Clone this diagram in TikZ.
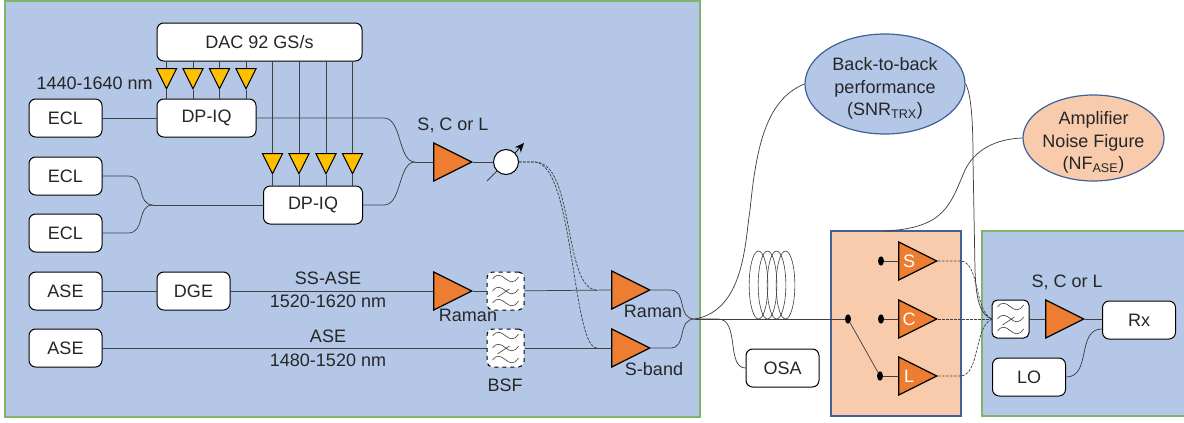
\documentclass[tikz,border=0pt]{standalone}
\usepackage{fontspec}
\setmainfont{Liberation Sans}
\usetikzlibrary{shapes.geometric,arrows.meta}
\definecolor{panelblue}{HTML}{B4C7E7}
\definecolor{panelpeach}{HTML}{F8CBAD}
\definecolor{panelgreen}{HTML}{7FB56A}
\definecolor{edgeblue}{HTML}{3F6198}
\definecolor{amporange}{HTML}{ED7D31}
\definecolor{drvyellow}{HTML}{FFC000}
\definecolor{fibregray}{HTML}{404040}
\tikzset{
  txt/.style={font=\fontsize{13.5pt}{17pt}\selectfont, text=black!85, inner sep=0pt},
  box/.style={txt, draw=black, fill=white, rounded corners=5pt, line width=0.75pt, minimum height=28.5pt},
  filt/.style={draw=black, fill=white, rounded corners=4pt, line width=0.75pt, minimum width=27.75pt, minimum height=28.5pt, inner sep=0pt},
  amp/.style={isosceles triangle, isosceles triangle stretches, isosceles triangle apex angle=60, draw=black, fill=amporange, line width=0.9pt, minimum width=28.5pt, minimum height=28.5pt, inner sep=0pt, anchor=apex},
  drv/.style={isosceles triangle, isosceles triangle stretches, shape border rotate=270, draw=black, fill=drvyellow, line width=0.75pt, minimum width=15pt, minimum height=15pt, inner sep=0pt, anchor=apex},
  bubble/.style={ellipse, draw=edgeblue, line width=0.9pt, inner sep=0pt},
  bubbletext/.style={txt, align=center, yshift=-3.4pt},
  fibre/.style={draw=fibregray, line width=0.55pt},
  dots/.style={fibre, dash pattern=on 2pt off 1pt},
  tap/.style={ellipse, fill=black, inner sep=0pt, minimum width=4.5pt, minimum height=7pt},
  wave/.pic={
    \foreach \dy in {-12,0,12} {
      \draw[fibregray, line width=0.45pt] (-13,\dy) .. controls (-3,\dy-13) and (3,\dy+13) .. (13,\dy-2);
    }
    \draw[fibregray, line width=0.45pt] (-8,6) -- (4,-2);
  }
}
\begin{document}
\begin{tikzpicture}[x=0.75pt,y=-0.75pt]
\useasboundingbox (0,0) rectangle (1184,422);
\draw[fill=panelblue, draw=panelgreen, line width=1.1pt] (5,1) rectangle (700,417);
\draw[fill=panelpeach, draw=edgeblue, line width=0.9pt] (831,231) rectangle (961,416);
\draw[fill=panelblue, draw=panelgreen, line width=1.1pt] (982,231) rectangle (1190,416);
\node[box, minimum width=153.75pt] (dac) at (259.5,42) {DAC 92 GS/s};
\node[box, minimum width=74.25pt] (iq1) at (206.5,118) {DP-IQ};
\node[box, minimum width=74.25pt] (iq2) at (313,205) {DP-IQ};
\node[box, minimum width=54.75pt] (ecl1) at (65.5,118) {ECL};
\node[box, minimum width=54.75pt] (ecl2) at (65.5,176) {ECL};
\node[box, minimum width=54.75pt] (ecl3) at (65.5,233) {ECL};
\node[box, minimum width=54.75pt] (ase1) at (65.5,291) {ASE};
\node[box, minimum width=54.75pt] (dge) at (193.5,291) {DGE};
\node[box, minimum width=54.75pt] (ase2) at (65.5,348) {ASE};
\node[box, minimum width=54.75pt] (osa) at (782.5,368) {OSA};
\node[box, minimum width=54.75pt] (rx) at (1139,320) {Rx};
\node[box, minimum width=54.75pt] (lo) at (1029,377) {LO};
\node[filt, dashed] (bpf) at (505.5,291) {};
\node[filt, dashed] (bsf) at (505.5,348) {};
\node[filt] (rxf) at (1010.5,319) {};
\pic at (bpf) {wave};
\pic at (bsf) {wave};
\pic at (rxf) {wave};
\node[amp] (boost) at (473,162) {};
\node[amp] (ram1) at (473,291) {};
\node[amp] (ram2) at (651,290) {};
\node[amp] (sbd) at (651,348) {};
\node[amp] (rxa) at (1085,319) {};
\node[amp] (ampS) at (938,261) {};
\node[amp] (ampC) at (938,319) {};
\node[amp] (ampL) at (938,376) {};
\node[txt, text=white] (nameS) at (909,261) {S};
\node[txt, text=white] (nameC) at (909,319) {C};
\node[txt, text=white] (nameL) at (909,376) {L};
\node[draw=black, fill=white, circle, line width=0.75pt, minimum size=18.75pt, inner sep=0pt] (voa) at (506,162) {};
\coordinate (voaA) at (487,181);
\coordinate (voaB) at (524,143);
\foreach \n/\x in {a/166.5,b/193,c/219.5,d/246} {
  \node[drv] (drv\n) at (\x,90) {};
  \draw[fibre] (dac.south -| drv\n.apex) -- (drv\n.lower side);
  \draw[fibre] (drv\n.apex) -- (drv\n.apex |- iq1.north);
}
\foreach \n/\x in {e/272.5,f/299,g/326,h/352.5} {
  \node[drv] (drv\n) at (\x,175) {};
  \draw[fibre] (dac.south -| drv\n.apex) -- (drv\n.lower side);
  \draw[fibre] (drv\n.apex) -- (drv\n.apex |- iq2.north);
}
\node[tap] (tap0) at (848,319) {};
\node[tap] (tapS) at (881,261) {};
\node[tap] (tapC) at (881,319) {};
\node[tap] (tapL) at (880,376) {};
\node[bubble, fill=panelblue, minimum width=120pt, minimum height=75pt, label={[bubbletext]center:Back-to-back\\performance\\(SNR\textsubscript{TRX})}] (b2b) at (885,84) {};
\node[bubble, fill=panelpeach, minimum width=105.75pt, minimum height=64.5pt, label={[bubbletext]center:Amplifier\\Noise Figure\\(NF\textsubscript{ASE})}] (nf) at (1093.5,138) {};
\coordinate (join1) at (153,205);
\coordinate (join2) at (415,162);
\coordinate (join3) at (695,319);
\coordinate (join4) at (992,319);
\node[txt, anchor=east] (wl) at (153,83) {1440-1640 nm};
\node[txt] (lbA) at (453,125) {S, C or L};
\node[txt] (lbB) at (1067,282) {S, C or L};
\node[txt] (lbC) at (328,278) {SS-ASE};
\node[txt] (lbD) at (328,301) {1520-1620 nm};
\node[txt] (lbE) at (328,336) {ASE};
\node[txt] (lbF) at (328,360) {1480-1520 nm};
\node[txt] (lbG) at (468,315) {Raman};
\node[txt] (lbH) at (653,311) {Raman};
\node[txt] (lbI) at (654,369) {S-band};
\node[txt] (lbJ) at (505,385) {BSF};
\draw[fibre] (ecl1) -- (iq1);
\draw[fibre] (iq1.east) -- (384,118) .. controls (402,118) and (398,162) .. (join2);
\draw[fibre] (iq2.east) -- (384,205) .. controls (402,205) and (398,162) .. (join2);
\draw[fibre] (join2) -- (boost.lower side);
\draw[fibre] (boost.apex) -- (voa);
\draw[fibre] (voaA) -- (voa.south west);
\draw[-{Stealth[length=7pt,width=6pt]}, draw=black, line width=0.55pt] (voa.north east) -- (voaB);
\draw[fibre] (ecl2.east) -- (128,176) .. controls (146,176) and (136,205) .. (join1);
\draw[fibre] (ecl3.east) -- (128,233) .. controls (146,233) and (136,205) .. (join1);
\draw[fibre] (join1) -- (iq2.west);
\draw[fibre] (ase1) -- (dge);
\draw[fibre] (dge) -- (ram1.lower side);
\draw[fibre] (ram1.apex) -- (bpf);
\draw[fibre] (bpf) -- (ram2.lower side);
\draw[fibre] (ase2) -- (bsf);
\draw[fibre] (bsf) -- (sbd.lower side);
\draw[dots] (voa.east) -- (535,162) .. controls (575,162) and (563,290) .. (597,290);
\draw[dots] (voa.east) -- (535,162) .. controls (574,165) and (572,348) .. (597,348);
\draw[fibre] (ram2.apex) -- (670,290) .. controls (688,290) and (676,319) .. (join3);
\draw[fibre] (sbd.apex) -- (670,348) .. controls (688,348) and (676,319) .. (join3);
\draw[fibre] (join3) -- (tap0);
\draw[fibre] (join3) .. controls (745,310) and (745,240) .. (750,210) .. controls (756,150) and (765,100) .. (b2b.west);
\draw[fibre] (join3) -- (718,319) .. controls (740,319) and (726,368) .. (osa.west);
\draw[fibre] (b2b.east) .. controls (972,95) and (973,130) .. (973,160) -- (975,270) .. controls (976,300) and (980,315) .. (join4);
\draw[fibre] (885,231) .. controls (945,228) and (950,205) .. (965,170) .. controls (975,150) and (995,139) .. (nf.west);
\foreach \n in {0,1,2,3} {
  \node[draw=fibregray, line width=0.45pt, ellipse, inner sep=0pt, minimum width=14pt, minimum height=51pt] (spool\n) at (758.5+9*\n,285) {};
}
\draw[fibre] (tapS) -- (ampS.lower side);
\draw[fibre] (tapC) -- (ampC.lower side);
\draw[fibre] (tapL) -- (ampL.lower side);
\draw[fibre] (tap0) -- (tapL);
\draw[dots] (ampS.apex) -- (960,261) .. controls (980,261) and (974,312) .. (join4);
\draw[dots] (ampC.apex) -- (join4);
\draw[dots] (ampL.apex) -- (960,376) .. controls (980,376) and (974,326) .. (join4);
\draw[fibre] (rxf) -- (rxa.lower side);
\draw[fibre] (rxa.apex) -- (rx.west |- rxa.apex);
\draw[fibre] (lo.east) .. controls (1092,377) and (1076,329) .. (rx.west |- 0,329);
\end{tikzpicture}
\end{document}
